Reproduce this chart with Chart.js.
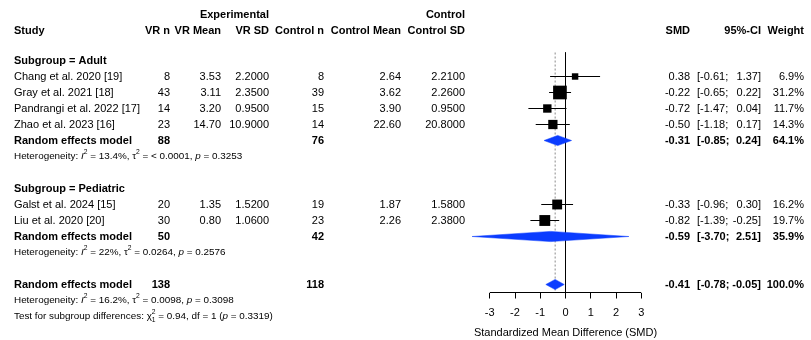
<!DOCTYPE html>
<html>
<head>
<meta charset="utf-8">
<script src="https://cdn.jsdelivr.net/npm/chart.js@4/dist/chart.umd.min.js"></script>
<style>
  html, body { margin: 0; padding: 0; background: #fff; }
  canvas { display: block; }
</style>
</head>
<body>
<canvas id="forest" width="811" height="340"></canvas>
<script>
// ---- Study-level data ----
const studies   = ["Chang et al. 2020 [19]", "Gray et al. 2021 [18]", "Pandrangi et al. 2022 [17]", "Zhao et al. 2023 [16]", "Galst et al. 2024 [15]", "Liu et al. 2020 [20]"];
const studyRows = [4, 5, 6, 7, 12, 13];
const vrN       = [8, 43, 14, 23, 20, 30];
const vrMean    = [3.53, 3.11, 3.20, 14.70, 1.35, 0.80];
const vrSD      = [2.2000, 2.3500, 0.9500, 10.9000, 1.5200, 1.0600];
const ctrlN     = [8, 39, 15, 14, 19, 23];
const ctrlMean  = [2.64, 3.62, 3.90, 22.60, 1.87, 2.26];
const ctrlSD    = [2.2100, 2.2600, 0.9500, 20.8000, 1.5800, 2.3800];
const smd       = [0.38, -0.22, -0.72, -0.50, -0.33, -0.82];
const ciLow     = [-0.61, -0.65, -1.47, -1.18, -0.96, -1.39];
const ciHigh    = [1.37, 0.22, 0.04, 0.17, 0.30, -0.25];
const weights   = [6.9, 31.2, 11.7, 14.3, 16.2, 19.7];

// ---- Subgroup headings ----
const subgroupLabels = ["Subgroup = Adult", "Subgroup = Pediatric"];
const subgroupRows   = [3, 11];

// ---- Pooled (random effects) results: Adult, Pediatric, Overall ----
const pooledRows   = [8, 14, 17];
const pooledEst    = [-0.31, -0.59, -0.41];
const pooledLow    = [-0.85, -3.70, -0.78];
const pooledHigh   = [0.24, 2.51, -0.05];
const pooledWeight = [64.1, 35.9, 100.0];
const pooledNExp   = [88, 50, 138];
const pooledNCtrl  = [76, 42, 118];

// ---- Heterogeneity statistics ----
const hetRows = [9, 15, 18];
const hetI2   = ["13.4%", "22%", "16.2%"];
const hetTau2 = ["< 0.0001", "0.0264", "0.0098"];
const hetP    = ["0.3253", "0.2576", "0.3098"];
const testRow = 19;
const testChi2 = "0.94", testDf = "1", testP = "0.3319";

// ---- Axis ticks ----
const tickValues = [-3, -2, -1, 0, 1, 2, 3];

const FAM = '"Liberation Sans", Arial, Helvetica, sans-serif';
const FS = 11;      // table font size
const HFS = 9.9;    // heterogeneity text size
const BLUE = '#0b3cff';

// ---- Datasets ----
const datasets = [];

// reference line at zero
datasets.push({
  type: 'line', data: [{x: 0, y: 2.5}, {x: 0, y: 17.5}],
  borderColor: '#000', borderWidth: 1, pointRadius: 0, clip: false, order: 10
});
// dotted line at overall pooled estimate
datasets.push({
  type: 'line', data: [{x: pooledEst[2], y: 2.5}, {x: pooledEst[2], y: 17.5}],
  borderColor: '#8a8a8a', borderWidth: 1, borderDash: [2, 2], pointRadius: 0, clip: false, order: 10
});
// horizontal axis line spanning the tick range
datasets.push({
  type: 'line',
  data: [{x: Math.min(...tickValues), y: 17.5}, {x: Math.max(...tickValues), y: 17.5}],
  borderColor: '#000', borderWidth: 1, pointRadius: 0, clip: false, order: 10
});
// confidence interval whiskers
studies.forEach((s, i) => {
  datasets.push({
    type: 'line',
    data: [{x: ciLow[i], y: studyRows[i]}, {x: ciHigh[i], y: studyRows[i]}],
    borderColor: '#000', borderWidth: 1, pointRadius: 0, clip: false, order: 5
  });
});
// weighted squares (area proportional to weight)
datasets.push({
  type: 'scatter',
  data: studies.map((s, i) => ({x: smd[i], y: studyRows[i]})),
  pointStyle: 'rect',
  pointRadius: weights.map(w => 2.45 * Math.sqrt(w) / Math.SQRT2),
  backgroundColor: '#000', borderWidth: 0, clip: false, order: 1
});
// pooled diamonds
const halfH = 0.32;
pooledRows.forEach((r, i) => {
  datasets.push({
    type: 'line',
    data: [
      {x: pooledLow[i], y: r}, {x: pooledEst[i], y: r - halfH},
      {x: pooledHigh[i], y: r}, {x: pooledEst[i], y: r + halfH},
      {x: pooledLow[i], y: r}
    ],
    borderColor: BLUE, backgroundColor: BLUE, borderWidth: 0.5,
    fill: 'shape', pointRadius: 0, tension: 0, clip: false, order: 0
  });
});

// ---- Table text ----
function font(size, bold, italic) {
  return `${italic ? 'italic ' : ''}${bold ? 'bold ' : ''}${size}px ${FAM}`;
}
function txt(ctx, s, x, y, align, bold) {
  ctx.font = font(FS, bold);
  ctx.textAlign = align;
  ctx.fillText(s, x, y);
}
function runs(ctx, x, y, parts, size) {
  ctx.textAlign = 'left';
  let cx = x;
  for (const p of parts) {
    if (p.stack) {
      ctx.font = font(size * 0.68);
      const w = Math.max(ctx.measureText(p.sup).width, ctx.measureText(p.sub).width);
      ctx.fillText(p.sup, cx, y - size * 0.4);
      ctx.fillText(p.sub, cx, y + size * 0.32);
      cx += w;
      continue;
    }
    const fs = p.sup ? size * 0.68 : size;
    ctx.font = font(fs, false, p.it);
    ctx.fillText(p.t, cx, p.sup ? y - size * 0.4 : y);
    cx += ctx.measureText(p.t).width;
  }
}

const col = { study: 14, vrN: 170, vrMean: 221, vrSD: 269, cN: 324, cMean: 401, cSD: 465,
              smd: 690, ciOpen: 697, ciR: 761, w: 804 };

// "[lower;" starts at a fixed column, "upper]" is right-aligned
function ciText(ctx, lo, hi, y, bold) {
  txt(ctx, '[' + lo.toFixed(2) + ';', col.ciOpen, y, 'left', bold);
  txt(ctx, hi.toFixed(2) + ']', col.ciR, y, 'right', bold);
}

const tablePlugin = {
  id: 'forestTable',
  beforeDraw(chart) {
    const c = chart.ctx;
    c.save(); c.fillStyle = '#fff'; c.fillRect(0, 0, chart.width, chart.height); c.restore();
  },
  afterDraw(chart) {
    const c = chart.ctx;
    const Y = v => chart.scales.y.getPixelForValue(v);
    c.save();
    c.fillStyle = '#000';
    c.textBaseline = 'middle';

    // headers
    let y = Y(0.16);
    txt(c, 'Experimental', col.vrSD, y, 'right', true);
    txt(c, 'Control', col.cSD, y, 'right', true);
    y = Y(1.16);
    txt(c, 'Study', col.study, y, 'left', true);
    txt(c, 'VR n', col.vrN, y, 'right', true);
    txt(c, 'VR Mean', col.vrMean, y, 'right', true);
    txt(c, 'VR SD', col.vrSD, y, 'right', true);
    txt(c, 'Control n', col.cN, y, 'right', true);
    txt(c, 'Control Mean', col.cMean, y, 'right', true);
    txt(c, 'Control SD', col.cSD, y, 'right', true);
    txt(c, 'SMD', col.smd, y, 'right', true);
    txt(c, '95%-CI', col.ciR, y, 'right', true);
    txt(c, 'Weight', col.w, y, 'right', true);

    subgroupLabels.forEach((s, i) => txt(c, s, col.study, Y(subgroupRows[i]), 'left', true));

    studies.forEach((s, i) => {
      const yy = Y(studyRows[i]);
      txt(c, s, col.study, yy, 'left');
      txt(c, String(vrN[i]), col.vrN, yy, 'right');
      txt(c, vrMean[i].toFixed(2), col.vrMean, yy, 'right');
      txt(c, vrSD[i].toFixed(4), col.vrSD, yy, 'right');
      txt(c, String(ctrlN[i]), col.cN, yy, 'right');
      txt(c, ctrlMean[i].toFixed(2), col.cMean, yy, 'right');
      txt(c, ctrlSD[i].toFixed(4), col.cSD, yy, 'right');
      txt(c, smd[i].toFixed(2), col.smd, yy, 'right');
      ciText(c, ciLow[i], ciHigh[i], yy, false);
      txt(c, weights[i].toFixed(1) + '%', col.w, yy, 'right');
    });

    pooledRows.forEach((r, i) => {
      const yy = Y(r);
      txt(c, 'Random effects model', col.study, yy, 'left', true);
      txt(c, String(pooledNExp[i]), col.vrN, yy, 'right', true);
      txt(c, String(pooledNCtrl[i]), col.cN, yy, 'right', true);
      txt(c, pooledEst[i].toFixed(2), col.smd, yy, 'right', true);
      ciText(c, pooledLow[i], pooledHigh[i], yy, true);
      txt(c, pooledWeight[i].toFixed(1) + '%', col.w, yy, 'right', true);
    });

    hetRows.forEach((r, i) => {
      runs(c, col.study, Y(r), [
        {t: 'Heterogeneity: '}, {t: 'I', it: true}, {t: '2', sup: true},
        {t: ' = ' + hetI2[i] + ', \u03C4'}, {t: '2', sup: true},
        {t: ' = ' + hetTau2[i] + ', '}, {t: 'p', it: true}, {t: ' = ' + hetP[i]}
      ], HFS);
    });

    runs(c, col.study, Y(testRow), [
      {t: 'Test for subgroup differences: \u03C7'}, {stack: true, sup: '2', sub: testDf},
      {t: ' = ' + testChi2 + ', df = ' + testDf + ' ('}, {t: 'p', it: true}, {t: ' = ' + testP + ')'}
    ], HFS);

    c.restore();
  }
};

new Chart(document.getElementById('forest'), {
  type: 'scatter',
  data: { datasets },
  options: {
    responsive: false,
    animation: false,
    events: [],
    layout: { padding: { left: 464.5, right: 811 - 666.5, top: 52.5, bottom: 0 } },
    plugins: { legend: { display: false }, tooltip: { enabled: false } },
    scales: {
      x: {
        type: 'linear', min: -4, max: 4,
        afterBuildTicks: s => { s.ticks = tickValues.map(v => ({ value: v })); },
        afterFit: s => { s.height = 340 - 292.5; },
        grid: { drawOnChartArea: false, drawTicks: true, tickLength: 6, color: '#000', lineWidth: 1 },
        border: { display: false },
        ticks: { color: '#000', font: { family: FAM, size: FS }, padding: 7.5, maxRotation: 0, autoSkip: false },
        title: { display: true, text: 'Standardized Mean Difference (SMD)', color: '#000',
                 font: { family: FAM, size: FS }, padding: { top: 0, bottom: 0.5 } }
      },
      y: { type: 'linear', min: 2.5, max: 17.5, reverse: true, display: false }
    }
  },
  plugins: [tablePlugin]
});
</script>
</body>
</html>
